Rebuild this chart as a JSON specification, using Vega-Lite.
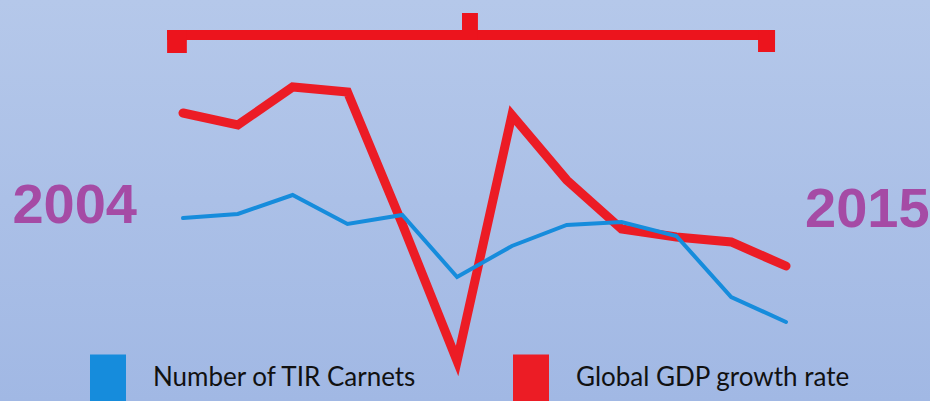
{
  "$schema": "https://vega.github.io/schema/vega-lite/v6.json",
  "width": 930,
  "height": 401,
  "autosize": {"type": "none"},
  "padding": 0,
  "background": "#ABC0E7",
  "config": {"view": {"stroke": null}},
  "datasets": {
    "series": [
      {"year": 2004, "series": "Global GDP growth rate", "value": 288},
      {"year": 2005, "series": "Global GDP growth rate", "value": 276},
      {"year": 2006, "series": "Global GDP growth rate", "value": 314},
      {"year": 2007, "series": "Global GDP growth rate", "value": 309},
      {"year": 2008, "series": "Global GDP growth rate", "value": 177},
      {"year": 2009, "series": "Global GDP growth rate", "value": 40},
      {"year": 2010, "series": "Global GDP growth rate", "value": 286},
      {"year": 2011, "series": "Global GDP growth rate", "value": 221},
      {"year": 2012, "series": "Global GDP growth rate", "value": 172},
      {"year": 2013, "series": "Global GDP growth rate", "value": 164},
      {"year": 2014, "series": "Global GDP growth rate", "value": 159},
      {"year": 2015, "series": "Global GDP growth rate", "value": 135},
      {"year": 2004, "series": "Number of TIR Carnets", "value": 183},
      {"year": 2005, "series": "Number of TIR Carnets", "value": 187},
      {"year": 2006, "series": "Number of TIR Carnets", "value": 206},
      {"year": 2007, "series": "Number of TIR Carnets", "value": 177},
      {"year": 2008, "series": "Number of TIR Carnets", "value": 186},
      {"year": 2009, "series": "Number of TIR Carnets", "value": 124},
      {"year": 2010, "series": "Number of TIR Carnets", "value": 155},
      {"year": 2011, "series": "Number of TIR Carnets", "value": 176},
      {"year": 2012, "series": "Number of TIR Carnets", "value": 179},
      {"year": 2013, "series": "Number of TIR Carnets", "value": 165},
      {"year": 2014, "series": "Number of TIR Carnets", "value": 104},
      {"year": 2015, "series": "Number of TIR Carnets", "value": 79}
    ],
    "bracket": [
      {"part": "bar", "from": 2003.71, "to": 2014.80, "low": 361, "high": 371},
      {"part": "left", "from": 2003.71, "to": 2004.07, "low": 348, "high": 371},
      {"part": "right", "from": 2014.49, "to": 2014.80, "low": 349, "high": 371},
      {"part": "middle", "from": 2009.09, "to": 2009.38, "low": 361, "high": 388}
    ],
    "labels": [
      {"year": 2004, "label": "2004", "value": 178},
      {"year": 2015, "label": "2015", "value": 174}
    ]
  },
  "layer": [
    {
      "data": {"values": [{"span": "background"}]},
      "mark": {
        "type": "rect",
        "color": {
          "gradient": "linear",
          "x1": 0, "y1": 0, "x2": 0, "y2": 1,
          "stops": [
            {"offset": 0, "color": "#B5C8EA"},
            {"offset": 1, "color": "#A1B8E4"}
          ]
        }
      },
      "encoding": {
        "x": {"datum": 1990, "type": "quantitative", "scale": {"domain": [2004, 2015], "range": [183, 786], "nice": false, "zero": false}, "axis": null},
        "x2": {"datum": 2030},
        "y": {"datum": 0, "type": "quantitative", "scale": {"domain": [0, 401], "nice": false, "zero": false}, "axis": null},
        "y2": {"datum": 401}
      }
    },
    {
      "data": {"name": "bracket"},
      "mark": {"type": "rect", "color": "#EC141D"},
      "encoding": {
        "x": {"field": "from", "type": "quantitative"},
        "x2": {"field": "to"},
        "y": {"field": "low", "type": "quantitative"},
        "y2": {"field": "high"}
      }
    },
    {
      "data": {"name": "series"},
      "transform": [{"filter": "datum.series === 'Global GDP growth rate'"}],
      "mark": {"type": "line", "strokeWidth": 9, "strokeCap": "round"},
      "encoding": {
        "x": {"field": "year", "type": "quantitative"},
        "y": {"field": "value", "type": "quantitative"},
        "color": {
          "field": "series",
          "type": "nominal",
          "scale": {"domain": ["Number of TIR Carnets", "Global GDP growth rate"], "range": ["#168CDC", "#EC1C25"]},
          "legend": {
            "title": null,
            "orient": "none",
            "legendX": 90,
            "legendY": 360,
            "direction": "horizontal",
            "columns": 2,
            "gridAlign": "all",
            "columnPadding": 86,
            "padding": 0,
            "symbolType": "M-1,-1.3H1V2H-1Z",
            "symbolSize": 1296,
            "symbolStrokeWidth": 0,
            "labelFont": "Lato",
            "labelFontSize": 26,
            "labelColor": "#111111",
            "labelOffset": 27,
            "labelLimit": 500,
            "encode": {
              "symbols": {"update": {"fill": {"scale": "color", "field": "value"}, "fillOpacity": {"value": 1}, "strokeWidth": {"value": 0}}}
            }
          }
        }
      }
    },
    {
      "data": {"name": "series"},
      "transform": [{"filter": "datum.series === 'Number of TIR Carnets'"}],
      "mark": {"type": "line", "strokeWidth": 4, "strokeCap": "round"},
      "encoding": {
        "x": {"field": "year", "type": "quantitative"},
        "y": {"field": "value", "type": "quantitative"},
        "color": {"field": "series", "type": "nominal"}
      }
    },
    {
      "data": {"name": "labels"},
      "transform": [{"filter": "datum.label === '2004'"}],
      "mark": {"type": "text", "align": "right", "baseline": "alphabetic", "dx": -46, "font": "Liberation Sans", "fontWeight": "bold", "fontSize": 56, "color": "#A54BA5"},
      "encoding": {
        "x": {"field": "year", "type": "quantitative"},
        "y": {"field": "value", "type": "quantitative"},
        "text": {"field": "label"}
      }
    },
    {
      "data": {"name": "labels"},
      "transform": [{"filter": "datum.label === '2015'"}],
      "mark": {"type": "text", "align": "left", "baseline": "alphabetic", "dx": 19, "font": "Liberation Sans", "fontWeight": "bold", "fontSize": 56, "color": "#A54BA5"},
      "encoding": {
        "x": {"field": "year", "type": "quantitative"},
        "y": {"field": "value", "type": "quantitative"},
        "text": {"field": "label"}
      }
    }
  ]
}
